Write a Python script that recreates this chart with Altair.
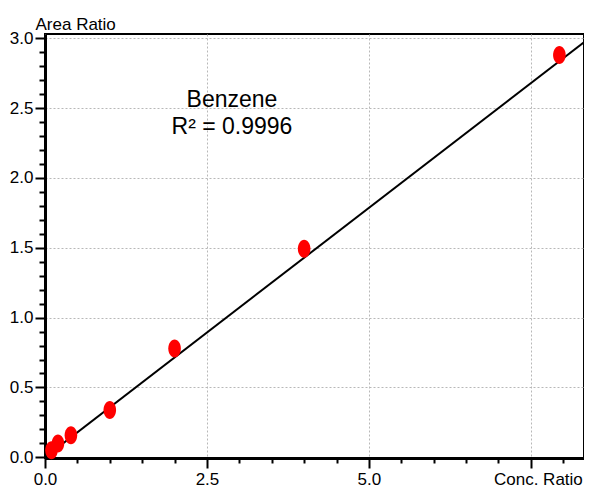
import altair as alt
import pandas as pd

conc_ratio = [0.1, 0.2, 0.4, 1.0, 2.0, 4.0, 7.94]
area_ratio = [0.05, 0.098, 0.158, 0.338, 0.779, 1.493, 2.879]
fit_x = [0.0, 8.4]
fit_y = [0.0, 3.0]
annotation = ["Benzene", "R\u00b2 = 0.9996"]

x_ticks = [round(i * 0.5, 1) for i in range(0, 17)]
y_ticks = [round(i * 0.1, 1) for i in range(0, 31)]

df = pd.DataFrame({"x": conc_ratio, "y": area_ratio})
fit_df = pd.DataFrame({"x": fit_x, "y": fit_y})

FONT = "Liberation Sans, Arial, sans-serif"

x_major = "round(datum.value*2) % 5 === 0"
y_major = "round(datum.value*10) % 5 === 0"

xscale = alt.Scale(domain=[0, 8.32], nice=False, zero=False)
yscale = alt.Scale(domain=[-0.005, 3.03], nice=False, zero=False)

x_axis = alt.Axis(
    values=x_ticks,
    tickCount=200,
    title=None,
    grid=True,
    gridColor="#b8b8b8",
    gridDash=[2, 2],
    gridWidth=1,
    gridOpacity={"condition": {"test": x_major, "value": 1}, "value": 0},
    tickSize={"condition": {"test": x_major, "value": 10}, "value": 5},
    tickWidth=2,
    tickColor="black",
    domainColor="black",
    domainWidth=3,
    labelExpr="datum.value === 7.5 ? 'Conc. Ratio' : ((" + x_major + ") ? format(datum.value, '.1f') : '')",
    labelOffset={"condition": {"test": "datum.value === 7.5", "value": 7}, "value": 0},
    labelFont=FONT,
    labelFontSize=17,
    labelColor="black",
    labelPadding=3,
    labelOverlap=False,
    labelFlush=False,
)

y_axis = alt.Axis(
    values=y_ticks,
    tickCount=200,
    title="Area Ratio",
    titleAngle=0,
    titleAlign="left",
    titleBaseline="alphabetic",
    titleX=-10,
    titleY=-5,
    titleFont=FONT,
    titleFontSize=17,
    titleFontWeight="normal",
    titleColor="black",
    grid=True,
    gridColor="#b8b8b8",
    gridDash=[2, 2],
    gridWidth=1,
    gridOpacity={"condition": {"test": y_major, "value": 1}, "value": 0},
    tickSize={"condition": {"test": y_major, "value": 10}, "value": 6},
    tickWidth=2,
    tickColor="black",
    domainColor="black",
    domainWidth=3,
    labelExpr="(" + y_major + ") ? format(datum.value, '.1f') : ''",
    labelFont=FONT,
    labelFontSize=17,
    labelColor="black",
    labelPadding=2,
    labelOverlap=False,
    labelFlush=False,
)

line = alt.Chart(fit_df).mark_line(
    color="black", strokeWidth=2, clip=True
).encode(
    x=alt.X("x:Q", scale=xscale, axis=x_axis),
    y=alt.Y("y:Q", scale=yscale, axis=y_axis),
)

ellipse = "M-0.7,0A0.7,1 0 1,0 0.7,0A0.7,1 0 1,0 -0.7,0Z"
points = alt.Chart(df).mark_point(
    shape=ellipse, filled=True, color="#ff0000", opacity=1, size=324
).encode(
    x=alt.X("x:Q", scale=xscale),
    y=alt.Y("y:Q", scale=yscale),
)

text = alt.Chart(pd.DataFrame({"t": [annotation]})).mark_text(
    font=FONT,
    fontSize=23,
    color="black",
    align="center",
    baseline="middle",
    lineHeight=27,
).encode(
    x=alt.value(187),
    y=alt.value(66),
    text="t",
)

chart = (
    alt.layer(line, points, text)
    .properties(
        width=539,
        height=424,
        autosize=alt.AutoSizeParams(type="none"),
        padding={"left": 37, "top": 26, "right": 0, "bottom": 31},
        background="white",
    )
    .configure_view(stroke="black", strokeWidth=2)
)

chart.save("out.html", embed_options={"renderer": "svg", "actions": False})
